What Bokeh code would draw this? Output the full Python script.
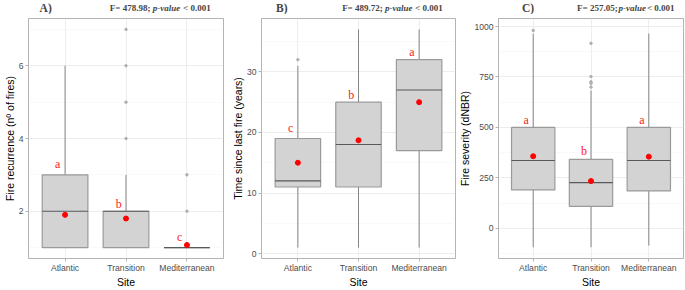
from bokeh.plotting import figure
from bokeh.models import ColumnDataSource, FactorRange, Range1d, FixedTicker, Label
from bokeh.layouts import row, column
from bokeh.core.properties import value
from bokeh.transform import dodge
from bokeh.embed import file_html
from bokeh.resources import INLINE

sites = ["Atlantic", "Transition", "Mediterranean"]

# Panel A: fire recurrence
rec_q1 = [1, 1, 1]
rec_med = [2, 2, 1]
rec_q3 = [3, 2, 1]
rec_lo = [1, 1, 1]
rec_hi = [6, 3, 1]
rec_mean = [1.9, 1.8, 1.07]
rec_out_site = ["Transition", "Transition", "Transition", "Transition", "Mediterranean", "Mediterranean"]
rec_out_val = [4, 5, 6, 7, 2, 3]
rec_sig = ["a", "b", "c"]
rec_sig_y = [3.3, 2.2, 1.3]

# Panel B: time since last fire
tsf_q1 = [11, 11, 17]
tsf_med = [12, 18, 27]
tsf_q3 = [19, 25, 32]
tsf_lo = [1, 1, 1]
tsf_hi = [31, 37, 37]
tsf_mean = [15.0, 18.7, 25.0]
tsf_out_site = ["Atlantic"]
tsf_out_val = [32]
tsf_sig = ["c", "b", "a"]
tsf_sig_y = [20.8, 26.2, 33.3]

# Panel C: fire severity
sev_q1 = [190, 108, 185]
sev_med = [336, 226, 336]
sev_q3 = [500, 341, 500]
sev_lo = [-94, -94, -86]
sev_hi = [965, 683, 965]
sev_mean = [357, 234, 355]
sev_out_site = ["Atlantic", "Transition", "Transition", "Transition", "Transition", "Transition"]
sev_out_val = [981, 700, 719, 726, 752, 917]
sev_sig = ["a", "b", "a"]
sev_sig_y = [535, 384, 535]

TITLE_H = 14
PANEL_H = 276


def title_fig(tag, fstat, w, tag_x, right_x):
    t = figure(width=w, height=TITLE_H, x_range=Range1d(0, w), y_range=Range1d(0, TITLE_H),
               output_backend="svg", toolbar_location=None, x_axis_type=None, y_axis_type=None,
               min_border=0, outline_line_color=None)
    yc = 7
    t.add_layout(Label(x=tag_x, y=yc, text=tag, text_font="Liberation Serif",
                       text_font_style="bold", text_font_size="11.5px", text_baseline="middle"))
    t.add_layout(Label(x=right_x, y=yc, text="< 0.001", text_font="Liberation Serif",
                       text_font_style="bold", text_font_size="9px", text_align="right",
                       text_baseline="middle"))
    t.add_layout(Label(x=right_x - 35.5, y=yc, text="p-value", text_font="Liberation Serif",
                       text_font_style="bold italic", text_font_size="9px", text_align="right",
                       text_baseline="middle"))
    t.add_layout(Label(x=right_x - 70.5, y=yc, text=fstat, text_font="Liberation Serif",
                       text_font_style="bold", text_font_size="9px", text_align="right",
                       text_baseline="middle"))
    return t


def panel(ylabel, q1, med, q3, lo, hi, mean, osite, oval, sig, sig_y,
          yr, ticks, minor, w, mbr):
    p = figure(x_range=FactorRange(*sites, range_padding=0.1, range_padding_units="absolute"),
               y_range=Range1d(*yr), width=w, height=PANEL_H,
               output_backend="svg", toolbar_location=None,
               min_border_left=0, min_border_right=mbr, min_border_top=4, min_border_bottom=0)
    src = ColumnDataSource(dict(site=sites, q1=q1, med=med, q3=q3, lo=lo, hi=hi,
                                mean=mean, sig=sig, sig_y=sig_y))
    tk = FixedTicker(ticks=ticks, minor_ticks=minor)
    p.yaxis.ticker = tk
    p.ygrid.ticker = tk
    p.grid.grid_line_color = "#EBEBEB"
    p.grid.grid_line_width = 0.9
    p.ygrid.minor_grid_line_color = "#F3F3F3"
    p.ygrid.minor_grid_line_width = 0.5
    p.segment(x0="site", y0="q3", x1="site", y1="hi", line_color="#858585", line_width=1, source=src)
    p.segment(x0="site", y0="q1", x1="site", y1="lo", line_color="#858585", line_width=1, source=src)
    p.vbar(x="site", top="q3", bottom="q1", width=0.75, fill_color="#D3D3D3",
           line_color="#9A9A9A", line_width=1.2, source=src)
    p.vbar(x="site", top="med", bottom="med", width=0.75, fill_alpha=0,
           line_color="#595959", line_width=1.1, source=src)
    p.scatter(x=osite, y=oval, size=2.5, color="#B0B0B0")
    p.scatter(x="site", y="mean", size=5, color="#FF0000", source=src)
    p.text(x=dodge("site", -0.12, range=p.x_range), y="sig_y", text="sig", source=src,
           text_font=value("Liberation Serif"), text_font_size="12px", text_color="#FF2020",
           text_align="center", text_baseline="middle")
    p.outline_line_color = "#B3B3B3"
    p.outline_line_width = 1
    for ax in (p.xaxis, p.yaxis):
        ax.axis_line_color = None
        ax.major_tick_line_color = "#B3B3B3"
        ax.major_tick_out = 3
        ax.major_tick_in = 0
        ax.minor_tick_line_color = None
        ax.major_label_text_font = "Liberation Sans"
        ax.major_label_text_font_size = "8.6px"
        ax.major_label_text_color = "#4D4D4D"
        ax.major_label_standoff = 1
        ax.axis_label_text_font = "Liberation Sans"
        ax.axis_label_text_font_size = "10.5px"
        ax.axis_label_text_font_style = "normal"
        ax.axis_label_text_color = "#000000"
        ax.axis_label_standoff = 0
    p.xaxis.axis_label = "Site"
    p.yaxis.axis_label = ylabel
    return p


pA = panel("Fire recurrence (nº of fires)", rec_q1, rec_med, rec_q3, rec_lo,
           rec_hi, rec_mean, rec_out_site, rec_out_val, rec_sig, rec_sig_y,
           (0.7, 7.3), [2, 4, 6], [1, 3, 5, 7], 228, 5)
pB = panel("Time since last fire (years)", tsf_q1, tsf_med, tsf_q3, tsf_lo,
           tsf_hi, tsf_mean, tsf_out_site, tsf_out_val, tsf_sig, tsf_sig_y,
           (-0.8, 38.8), [0, 10, 20, 30], [5, 15, 25, 35], 228, 1)
pC = panel("Fire severity (dNBR)", sev_q1, sev_med, sev_q3, sev_lo,
           sev_hi, sev_mean, sev_out_site, sev_out_val, sev_sig, sev_sig_y,
           (-150, 1040), [0, 250, 500, 750, 1000], [-125, 125, 375, 625, 875], 229, 2)

tA = title_fig("A)", "F= 478.98;", 228, 13, 213)
tB = title_fig("B)", "F= 489.72;", 228, 17, 213)
tC = title_fig("C)", "F= 257.05;", 229, 29, 218)

layout = row(column(tA, pA), column(tB, pB), column(tC, pC))
open("out.html", "w").write(file_html(layout, INLINE))
